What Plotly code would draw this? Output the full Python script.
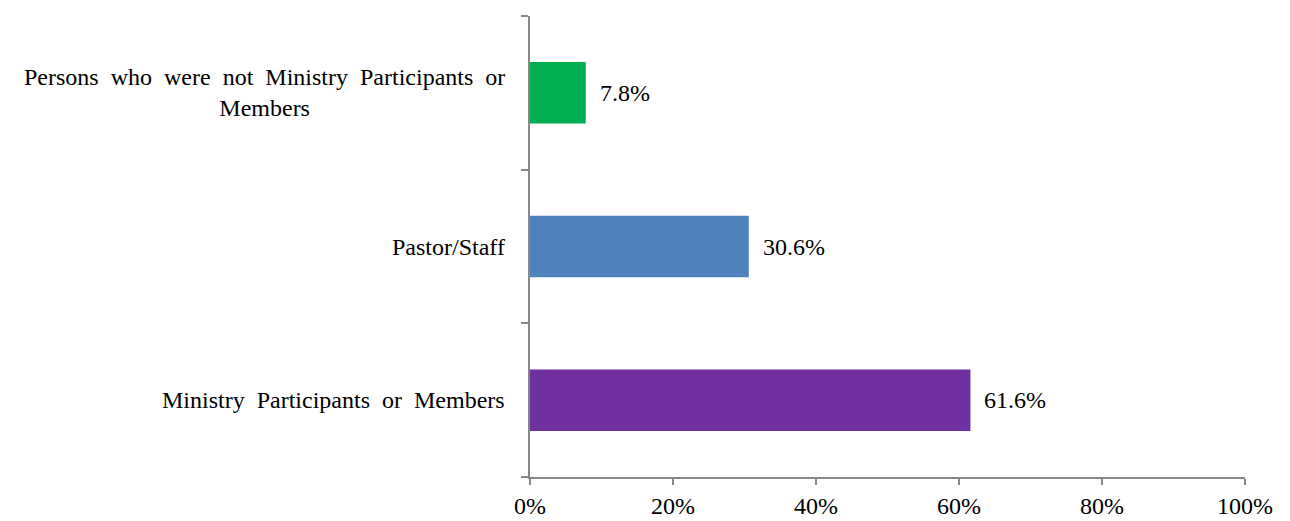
import plotly.graph_objects as go

# categories bottom -> top, as drawn
categorias = ["Ministry Participants or Members", "Pastor/Staff",
              "Persons who were not Ministry Participants or<br>Members"]
valores = [61.6, 30.6, 7.8]
cores = ["#7030A0", "#4F81BD", "#00B050"]
x_ticks = [0, 20, 40, 60, 80, 100]

fonte = dict(family="Liberation Serif, Times New Roman, serif", size=24, color="#000000")

fig = go.Figure()

fig.add_trace(go.Bar(
    x=valores, y=categorias, orientation="h",
    marker=dict(color=cores, line=dict(width=0)),
    width=0.4, showlegend=False, hoverinfo="x+y"))

# rotulos de valor ao lado das barras
for cat, v in zip(categorias, valores):
    fig.add_annotation(x=v, y=cat, text=f"{v:.1f}%", showarrow=False,
                       xanchor="left", xshift=12, font=fonte)

# rotulos das categorias (centralizados, como no original; espacos um pouco mais largos)
for cat in categorias:
    fig.add_annotation(x=0, xref="paper", y=cat, text=cat.replace(" ", " \u00a0"),
                       showarrow=False, xanchor="right", xshift=-23,
                       align="center", font=fonte)

# a pagina tem 8px de margem no body, por isso a figura e um pouco menor
fig.update_layout(
    width=1282, height=513,
    margin=dict(l=522, r=45, t=8, b=44),
    plot_bgcolor="white", paper_bgcolor="white",
    font=fonte,
)
fig.update_xaxes(
    range=[0, 100], tickvals=x_ticks, ticktext=[f"{t}%" for t in x_ticks],
    showgrid=False, zeroline=False, automargin=False,
    showline=True, linecolor="#888888", linewidth=1.5,
    ticks="outside", ticklen=6, tickcolor="#888888", tickwidth=1.5,
    tickfont=fonte, fixedrange=True)
fig.update_yaxes(
    type="category", categoryorder="array", categoryarray=categorias,
    range=[-0.5, 2.5], showticklabels=False, tickson="boundaries",
    showgrid=False, zeroline=False, automargin=False,
    showline=True, linecolor="#888888", linewidth=1.5,
    ticks="outside", ticklen=7, tickcolor="#888888", tickwidth=1.5,
    fixedrange=True)

fig.write_html("out.html")
